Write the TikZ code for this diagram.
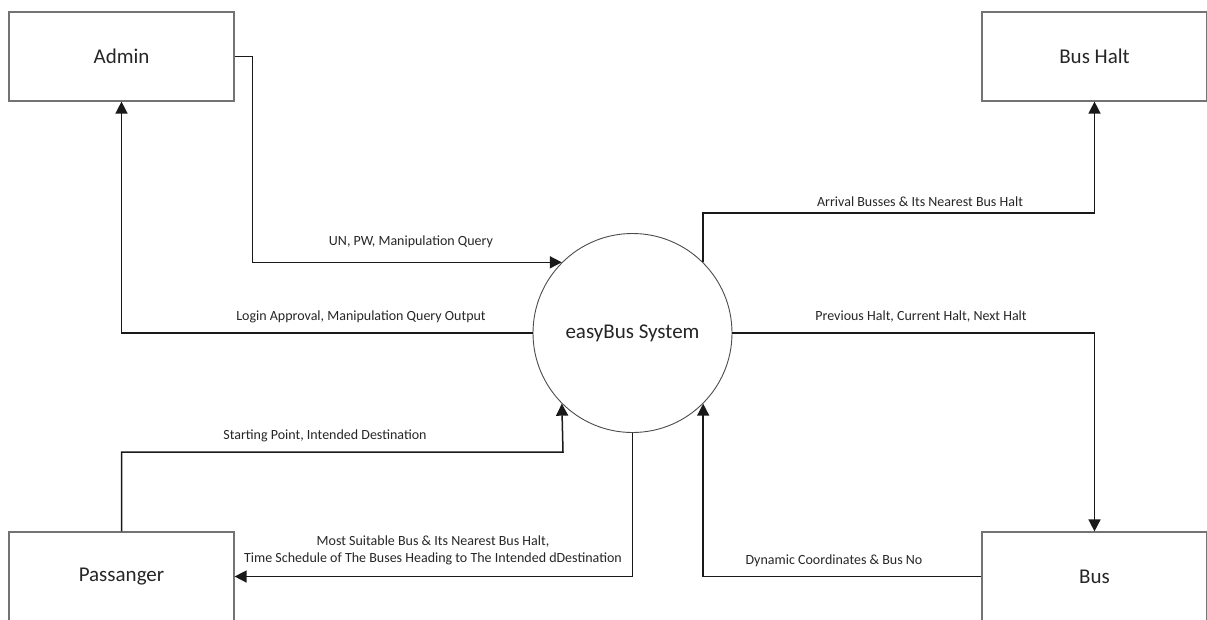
\documentclass[tikz,border=0pt]{standalone}
\usepackage{fontspec}
\setmainfont{Carlito}
\usetikzlibrary{arrows.meta}

\tikzset{
  entity/.style={draw=black!55, line width=1.2pt, fill=white,
    minimum width=225pt, minimum height=89pt, inner sep=0pt,
    font=\fontsize{21}{25}\selectfont, text=black!85},
  process/.style={circle, draw=black!70, line width=0.9pt, fill=white,
    minimum size=199pt, inner sep=0pt,
    font=\fontsize{21}{25}\selectfont, text=black!85},
  flow/.style={line width=1.5pt, draw=black!90,
    -{Triangle[length=12pt,width=12pt]}},
  flowlabel/.style={font=\fontsize{14}{17}\selectfont, text=black!85,
    inner sep=0pt, align=center}
}

\begin{document}
\begin{tikzpicture}[x=1pt,y=-1pt]
  \useasboundingbox (0,0) rectangle (1207,619);

  % external entities
  \node[entity] (admin)  at (121.5,56.5)  {Admin};
  \node[entity] (halt)   at (1094.5,56.5) {Bus Halt};
  \node[entity] (pass)   at (121.5,576.5) {Passanger};
  \node[entity] (bus)    at (1094.5,576.5) {Bus};

  % central process
  \node[process] (sys) at (632.5,333) {easyBus System};

  % data flows
  \draw[flow] (admin.east) -- ++(18,0) |- (sys.135);
  \draw[flow] (sys.west) -| (admin.south);
  \draw[flow] (sys.45) |- (1094.5,213) -- (halt.south);
  \draw[flow] (sys.east) -| (bus.north);
  \draw[flow] (bus.west) -| (sys.315);
  \draw[flow] (pass.north) |- (563,452) -- (sys.225);
  \draw[flow] (sys.south) |- (pass.east);

  % flow labels
  \node[flowlabel] (l1) at (411,242) {UN, PW, Manipulation Query};
  \node[flowlabel] (l2) at (361,317) {Login Approval, Manipulation Query Output};
  \node[flowlabel] (l3) at (920,202) {Arrival Busses \& Its Nearest Bus Halt};
  \node[flowlabel] (l4) at (921,317) {Previous Halt, Current Halt, Next Halt};
  \node[flowlabel] (l5) at (834,561) {Dynamic Coordinates \& Bus No};
  \node[flowlabel] (l6) at (325,436) {Starting Point, Intended Destination};
  \node[flowlabel] (l7) at (433,550) {Most Suitable Bus \& Its Nearest Bus Halt,\\Time Schedule of The Buses Heading to The Intended dDestination};
\end{tikzpicture}
\end{document}
